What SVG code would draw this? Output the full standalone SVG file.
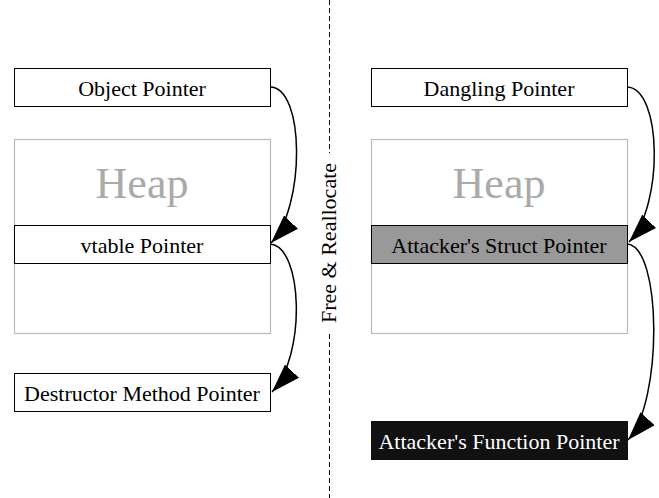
<svg xmlns="http://www.w3.org/2000/svg" width="659" height="498" viewBox="0 0 659 498">
<style>
.lbl{font-family:"Liberation Serif","Times New Roman",serif;font-size:22px;text-anchor:middle;fill:#000}
.heap{font-family:"Liberation Serif","Times New Roman",serif;font-size:44px;text-anchor:middle;fill:#aaa}
.box{fill:#fff;stroke:#000;stroke-width:1}
.hbox{fill:#fff;stroke:#bbb;stroke-width:1.2}
.edge{fill:none;stroke:#000;stroke-width:1.5}
</style>
<defs>
<marker id="ah" markerUnits="userSpaceOnUse" markerWidth="30" markerHeight="20" refX="27" refY="9" orient="auto" viewBox="0 0 28 18">
<path d="M0,0 L27,9 L0,18 z" fill="#000"/>
</marker>
</defs>
<rect width="659" height="498" fill="#fff"/>
<g id="divider">
<line x1="329.5" y1="0" x2="329.5" y2="153" stroke="#000" stroke-width="1" stroke-dasharray="5,3"/>
<line x1="329.5" y1="334" x2="329.5" y2="498" stroke="#000" stroke-width="1" stroke-dasharray="5,3"/>
<text class="lbl" transform="translate(336,243) rotate(-90)">Free &amp; Reallocate</text>
</g>
<g id="heap-left">
<rect class="hbox" x="14.5" y="139.5" width="256" height="194"/>
<text class="heap" x="142" y="198">Heap</text>
</g>
<g id="heap-right">
<rect class="hbox" x="371.5" y="139.5" width="256" height="194"/>
<text class="heap" x="499" y="198">Heap</text>
</g>
<g id="object-pointer">
<rect class="box" x="14.5" y="68.5" width="256" height="38"/>
<text class="lbl" x="142" y="96">Object Pointer</text>
</g>
<g id="vtable-pointer">
<rect class="box" x="14.5" y="225.5" width="256" height="38"/>
<text class="lbl" x="142" y="253">vtable Pointer</text>
</g>
<g id="destructor-pointer">
<rect class="box" x="14.5" y="373.5" width="256" height="38"/>
<text class="lbl" x="142" y="401">Destructor Method Pointer</text>
</g>
<g id="dangling-pointer">
<rect class="box" x="371.5" y="68.5" width="256" height="38"/>
<text class="lbl" x="499" y="96">Dangling Pointer</text>
</g>
<g id="struct-pointer">
<rect class="box" x="371.5" y="225.5" width="256" height="38" style="fill:#999"/>
<text class="lbl" x="499" y="253">Attacker's Struct Pointer</text>
</g>
<g id="function-pointer">
<rect x="371" y="421" width="257" height="39" fill="#111"/>
<text class="lbl" x="499" y="449" style="fill:#fff">Attacker's Function Pointer</text>
</g>
<g id="connectors">
<path class="edge" marker-end="url(#ah)" d="M270,87 C305,87 305.5,207 271,243"/>
<path class="edge" marker-end="url(#ah)" d="M270,244 C303,246 306.5,356 272,392"/>
<path class="edge" marker-end="url(#ah)" d="M627,87 C662,88 664,206 629,242"/>
<path class="edge" marker-end="url(#ah)" d="M627,244 C662,246 663,402 628,440"/>
</g>
</svg>
